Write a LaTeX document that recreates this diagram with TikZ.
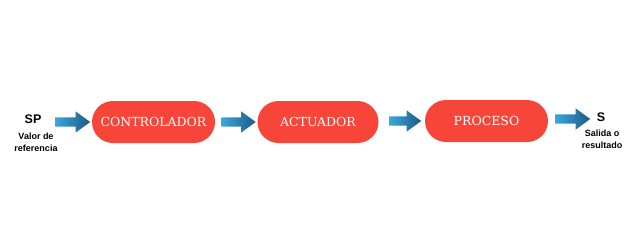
\documentclass[tikz,border=0pt]{standalone}
\usepackage{fontspec}
\setmainfont{DejaVu Serif}
\newfontfamily\labelfont{Liberation Sans}
\usetikzlibrary{shapes.arrows,shapes.misc}
\definecolor{blockred}{HTML}{F7453A}
\definecolor{arrowlight}{HTML}{3AA6DD}
\definecolor{arrowdark}{HTML}{1E5A85}
\tikzset{
  block/.style={rounded rectangle, fill=blockred, text=white,
    minimum width=123pt, minimum height=42pt, inner sep=0pt,
    font=\fontsize{12.5}{14}\selectfont},
  flowarrow/.style={single arrow, shape border rotate=0,
    left color=arrowlight, right color=arrowdark,
    minimum height=35pt, inner xsep=0pt, inner ysep=4.5pt,
    single arrow head extend=6pt, single arrow head indent=0pt,
    single arrow tip angle=72},
  biglabel/.style={font=\labelfont\bfseries\fontsize{12.5}{13}\selectfont},
  smalllabel/.style={font=\labelfont\bfseries\fontsize{9}{12}\selectfont, align=center},
}
\begin{document}
\begin{tikzpicture}[x=1pt,y=-1pt]
  \useasboundingbox[fill=white] (0,0) rectangle (640,244);
  % process blocks
  \node[block] (ctrl) at (153.5,122) {CONTROLADOR};
  \node[block, minimum width=121pt] (act) at (318,122) {ACTUADOR};
  \node[block] (proc) at (486.5,121) {PROCESO};
  % inputs and outputs
  \node[biglabel] (sp) at (33,119) {SP};
  \node[smalllabel, anchor=north] (spt) at (36,129) {Valor de\\referencia};
  \node[biglabel] (s) at (601,117) {S};
  \node[smalllabel, anchor=north] (st) at (602,126) {Salida o\\resultado};
  % block arrows between stages
  \node[flowarrow] (a1) at (69.5,122) {};
  \node[flowarrow, minimum height=34pt] (a2) at (235.5,122) {};
  \node[flowarrow, minimum height=32pt] (a3) at (402,121) {};
  \node[flowarrow] (a4) at (569.5,119) {};
\end{tikzpicture}
\end{document}
